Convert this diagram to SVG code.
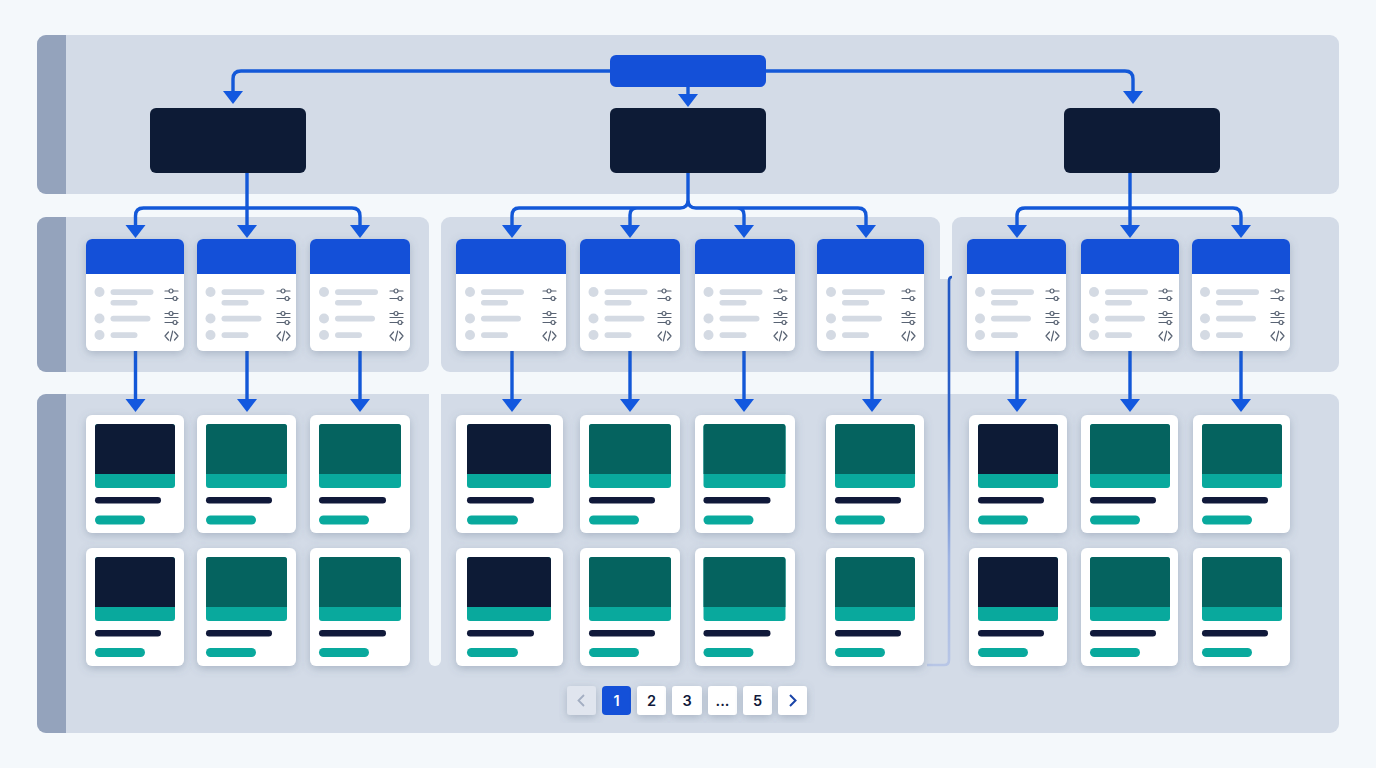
<svg xmlns="http://www.w3.org/2000/svg" width="1376" height="768" viewBox="0 0 1376 768">
<style>
.panel{fill:#d3dbe7}
.stripe{fill:#94a3bc}
.white{fill:#fff;filter:url(#sh)}
.blue{fill:#1450d8}
.dark{fill:#0d1b36}
.sub{fill:#d4dae3}
.tdark{fill:#05635f}
.teal{fill:#09a99d}
.ink{fill:#10193a}
.ln{fill:none;stroke:#1358d8;stroke-width:3.4;stroke-linejoin:round}
.ah{fill:#1358df}
.ic{fill:none;stroke:#596373;stroke-width:1.2;stroke-linecap:round;stroke-linejoin:round}
.pg{font-family:"Inter","Liberation Sans",sans-serif;font-size:14.500px;font-weight:600;fill:#10193a;text-anchor:middle}
</style>
<defs>
<filter id="sh" x="-25%" y="-25%" width="150%" height="150%"><feDropShadow dx="0" dy="2.500" stdDeviation="4" flood-color="#55657f" flood-opacity=".32"/></filter>
<linearGradient id="fade" gradientUnits="userSpaceOnUse" x1="0" y1="277" x2="0" y2="665">
<stop offset="0" stop-color="#1f56c4"/><stop offset=".4" stop-color="#2f62c8"/><stop offset=".72" stop-color="#9fb4e2"/><stop offset="1" stop-color="#b8c6e6"/>
</linearGradient>
<g id="lines">
<circle cx="0" cy="0" r="5" class="sub"/><rect x="11" y="-2.800" width="43" height="5.800" rx="2.900" class="sub"/><rect x="11" y="8" width="27" height="5.400" rx="2.700" class="sub"/>
<circle cx="0" cy="26.500" r="5" class="sub"/><rect x="11" y="23.700" width="40" height="5.800" rx="2.900" class="sub"/>
<circle cx="0" cy="43" r="5" class="sub"/><rect x="11" y="40.200" width="27" height="5.800" rx="2.900" class="sub"/>
</g>
<g id="icons">
<path class="ic" d="M0 5H4M8 5H13M0 12.500H8M12 12.500H13"/><circle class="ic" cx="6" cy="5" r="2"/><circle class="ic" cx="10" cy="12.500" r="2"/>
<path class="ic" d="M0 27.500H4M8 27.500H13M0 31.500H13M0 36.500H8M12 36.500H13"/><circle class="ic" cx="6" cy="27.500" r="2"/><circle class="ic" cx="10" cy="36.500" r="2"/>
<path class="ic" d="M3.500 46L0 50L3.500 54M9.500 46L13 50L9.500 54M7.700 45L5.300 55"/>
</g>
<path id="a" class="ah" d="M-10 0H10L0 13Z"/>
<g id="pic-d"><rect class="teal" x="0" y="0" width="80" height="64" rx="3"/><path class="dark" d="M0 50V3a3 3 0 0 1 3-3H77a3 3 0 0 1 3 3V50Z"/></g>
</defs>
<rect width="1376" height="768" fill="#f4f8fb"/>
<g id="panels">
<rect class="panel" x="37" y="35" width="1302" height="159" rx="9"/><path class="stripe" d="M66 35H46a9 9 0 0 0-9 9V185a9 9 0 0 0 9 9H66Z"/>
<rect class="panel" x="37" y="217" width="392" height="155" rx="9"/><path class="stripe" d="M66 217H46a9 9 0 0 0-9 9V363a9 9 0 0 0 9 9H66Z"/>
<path class="panel" d="M450 217H931a9 9 0 0 1 9 9V279H952V226a9 9 0 0 1 9-9H1330a9 9 0 0 1 9 9V363a9 9 0 0 1-9 9H450a9 9 0 0 1-9-9V226a9 9 0 0 1 9-9Z"/>
<rect class="panel" x="37" y="394" width="1302" height="339" rx="9"/><path class="stripe" d="M66 394H46a9 9 0 0 0-9 9V724a9 9 0 0 0 9 9H66Z"/>
<path fill="#f4f8fb" d="M429 394H441V660a6 6 0 0 1-6 6a6 6 0 0 1-6-6Z"/>
</g>
<g id="connectors">
<path d="M952 277Q949 277 949 281V660Q949 665 944 665H927" fill="none" stroke="url(#fade)" stroke-width="2.600"/>
<path class="ln" d="M610 71H241Q233 71 233 79V93M766 71H1125Q1133 71 1133 79V93M688 87V96"/>
<path class="ln" d="M247 173V226M135.500 226V216Q135.500 208 143.500 208H352Q360 208 360 216V226"/>
<path class="ln" d="M688 173V200Q688 208 680 208H519Q512 208 512 216V226M688 200Q688 208 696 208H858Q866 208 866 216V226M630 226V215Q630 208 637 208M744 226V215Q744 208 737 208"/>
<path class="ln" d="M1130 173V226M1017 226V216Q1017 208 1025 208H1233Q1241 208 1241 216V226"/>
<path class="ln" d="M135.500 351V400M247 351V400M360 351V400M512 351V400M630 351V400M744 351V400M872 351V400M1017 351V400M1130 351V400M1241 351V400"/>
<use href="#a" x="233" y="91"/><use href="#a" x="1133" y="91"/><use href="#a" x="688" y="94"/>
<use href="#a" x="135.500" y="225"/><use href="#a" x="247" y="225"/><use href="#a" x="360" y="225"/>
<use href="#a" x="512" y="225"/><use href="#a" x="630" y="225"/><use href="#a" x="744" y="225"/><use href="#a" x="866" y="225"/>
<use href="#a" x="1017" y="225"/><use href="#a" x="1130" y="225"/><use href="#a" x="1241" y="225"/>
<use href="#a" x="135.500" y="399"/><use href="#a" x="247" y="399"/><use href="#a" x="360" y="399"/>
<use href="#a" x="512" y="399"/><use href="#a" x="630" y="399"/><use href="#a" x="744" y="399"/><use href="#a" x="872" y="399"/>
<use href="#a" x="1017" y="399"/><use href="#a" x="1130" y="399"/><use href="#a" x="1241" y="399"/>
</g>
<g id="root"><rect class="blue" x="610" y="55" width="156" height="32" rx="6"/></g>
<g id="section-1"><rect class="dark" x="150" y="108" width="156" height="65" rx="6"/></g>
<g id="section-2"><rect class="dark" x="610" y="108" width="156" height="65" rx="6"/></g>
<g id="section-3"><rect class="dark" x="1064" y="108" width="156" height="65" rx="6"/></g>
<g id="list-1"><rect class="white" x="86" y="239" width="98" height="112" rx="6"/><path class="blue" d="M86 274V245a6 6 0 0 1 6-6H178a6 6 0 0 1 6 6V274Z"/><use href="#lines" x="99.500" y="292"/><use href="#icons" x="165" y="286"/></g>
<g id="list-2"><rect class="white" x="197" y="239" width="99" height="112" rx="6"/><path class="blue" d="M197 274V245a6 6 0 0 1 6-6H290a6 6 0 0 1 6 6V274Z"/><use href="#lines" x="210.500" y="292"/><use href="#icons" x="277" y="286"/></g>
<g id="list-3"><rect class="white" x="310" y="239" width="100" height="112" rx="6"/><path class="blue" d="M310 274V245a6 6 0 0 1 6-6H404a6 6 0 0 1 6 6V274Z"/><use href="#lines" x="324" y="292"/><use href="#icons" x="390" y="286"/></g>
<g id="list-4"><rect class="white" x="456" y="239" width="110" height="112" rx="6"/><path class="blue" d="M456 274V245a6 6 0 0 1 6-6H560a6 6 0 0 1 6 6V274Z"/><use href="#lines" x="470" y="292"/><use href="#icons" x="543" y="286"/></g>
<g id="list-5"><rect class="white" x="580" y="239" width="100" height="112" rx="6"/><path class="blue" d="M580 274V245a6 6 0 0 1 6-6H674a6 6 0 0 1 6 6V274Z"/><use href="#lines" x="593.500" y="292"/><use href="#icons" x="658" y="286"/></g>
<g id="list-6"><rect class="white" x="695" y="239" width="100" height="112" rx="6"/><path class="blue" d="M695 274V245a6 6 0 0 1 6-6H789a6 6 0 0 1 6 6V274Z"/><use href="#lines" x="708.500" y="292"/><use href="#icons" x="774" y="286"/></g>
<g id="list-7"><rect class="white" x="817" y="239" width="107" height="112" rx="6"/><path class="blue" d="M817 274V245a6 6 0 0 1 6-6H918a6 6 0 0 1 6 6V274Z"/><use href="#lines" x="831" y="292"/><use href="#icons" x="902" y="286"/></g>
<g id="list-8"><rect class="white" x="967" y="239" width="99" height="112" rx="6"/><path class="blue" d="M967 274V245a6 6 0 0 1 6-6H1060a6 6 0 0 1 6 6V274Z"/><use href="#lines" x="980" y="292"/><use href="#icons" x="1046" y="286"/></g>
<g id="list-9"><rect class="white" x="1081" y="239" width="98" height="112" rx="6"/><path class="blue" d="M1081 274V245a6 6 0 0 1 6-6H1173a6 6 0 0 1 6 6V274Z"/><use href="#lines" x="1094" y="292"/><use href="#icons" x="1159" y="286"/></g>
<g id="list-10"><rect class="white" x="1192" y="239" width="98" height="112" rx="6"/><path class="blue" d="M1192 274V245a6 6 0 0 1 6-6H1284a6 6 0 0 1 6 6V274Z"/><use href="#lines" x="1205" y="292"/><use href="#icons" x="1271" y="286"/></g>

<g id="c11"><rect class="white" x="86" y="415" width="98" height="118" rx="6"/><rect class="teal" x="95" y="424" width="80" height="64" rx="3"/><path class="dark" d="M95 474V427a3 3 0 0 1 3-3H172a3 3 0 0 1 3 3V474Z"/><rect class="ink" x="95" y="497" width="66" height="6.500" rx="3.200"/><rect class="teal" x="95" y="515.500" width="50" height="9" rx="4.500"/></g>
<g id="c12"><rect class="white" x="197" y="415" width="99" height="118" rx="6"/><rect class="teal" x="206" y="424" width="81" height="64" rx="3"/><path class="tdark" d="M206 474V427a3 3 0 0 1 3-3H284a3 3 0 0 1 3 3V474Z"/><rect class="ink" x="206" y="497" width="66" height="6.500" rx="3.200"/><rect class="teal" x="206" y="515.500" width="50" height="9" rx="4.500"/></g>
<g id="c13"><rect class="white" x="310" y="415" width="100" height="118" rx="6"/><rect class="teal" x="319" y="424" width="82" height="64" rx="3"/><path class="tdark" d="M319 474V427a3 3 0 0 1 3-3H398a3 3 0 0 1 3 3V474Z"/><rect class="ink" x="319" y="497" width="67" height="6.500" rx="3.200"/><rect class="teal" x="319" y="515.500" width="50" height="9" rx="4.500"/></g>
<g id="c14"><rect class="white" x="456" y="415" width="107" height="118" rx="6"/><rect class="teal" x="467" y="424" width="84" height="64" rx="3"/><path class="dark" d="M467 474V427a3 3 0 0 1 3-3H548a3 3 0 0 1 3 3V474Z"/><rect class="ink" x="467" y="497" width="67" height="6.500" rx="3.200"/><rect class="teal" x="467" y="515.500" width="51" height="9" rx="4.500"/></g>
<g id="c15"><rect class="white" x="580" y="415" width="100" height="118" rx="6"/><rect class="teal" x="589" y="424" width="82" height="64" rx="3"/><path class="tdark" d="M589 474V427a3 3 0 0 1 3-3H668a3 3 0 0 1 3 3V474Z"/><rect class="ink" x="589" y="497" width="66" height="6.500" rx="3.200"/><rect class="teal" x="589" y="515.500" width="50" height="9" rx="4.500"/></g>
<g id="c16"><rect class="white" x="695" y="415" width="100" height="118" rx="6"/><rect class="teal" x="703.500" y="424" width="82" height="64" rx="3"/><path class="tdark" d="M703.500 474V427a3 3 0 0 1 3-3H782.500a3 3 0 0 1 3 3V474Z"/><rect class="ink" x="703.500" y="497" width="67" height="6.500" rx="3.200"/><rect class="teal" x="703.500" y="515.500" width="50" height="9" rx="4.500"/></g>
<g id="c17"><rect class="white" x="826" y="415" width="98" height="118" rx="6"/><rect class="teal" x="835" y="424" width="80" height="64" rx="3"/><path class="tdark" d="M835 474V427a3 3 0 0 1 3-3H912a3 3 0 0 1 3 3V474Z"/><rect class="ink" x="835" y="497" width="66" height="6.500" rx="3.200"/><rect class="teal" x="835" y="515.500" width="50" height="9" rx="4.500"/></g>
<g id="c18"><rect class="white" x="969" y="415" width="98" height="118" rx="6"/><rect class="teal" x="978" y="424" width="80" height="64" rx="3"/><path class="dark" d="M978 474V427a3 3 0 0 1 3-3H1055a3 3 0 0 1 3 3V474Z"/><rect class="ink" x="978" y="497" width="66" height="6.500" rx="3.200"/><rect class="teal" x="978" y="515.500" width="50" height="9" rx="4.500"/></g>
<g id="c19"><rect class="white" x="1081" y="415" width="97" height="118" rx="6"/><rect class="teal" x="1090" y="424" width="80" height="64" rx="3"/><path class="tdark" d="M1090 474V427a3 3 0 0 1 3-3H1167a3 3 0 0 1 3 3V474Z"/><rect class="ink" x="1090" y="497" width="66" height="6.500" rx="3.200"/><rect class="teal" x="1090" y="515.500" width="50" height="9" rx="4.500"/></g>
<g id="c110"><rect class="white" x="1193" y="415" width="97" height="118" rx="6"/><rect class="teal" x="1202" y="424" width="80" height="64" rx="3"/><path class="tdark" d="M1202 474V427a3 3 0 0 1 3-3H1279a3 3 0 0 1 3 3V474Z"/><rect class="ink" x="1202" y="497" width="66" height="6.500" rx="3.200"/><rect class="teal" x="1202" y="515.500" width="50" height="9" rx="4.500"/></g>

<g id="c21"><rect class="white" x="86" y="548" width="98" height="118" rx="6"/><rect class="teal" x="95" y="557" width="80" height="64" rx="3"/><path class="dark" d="M95 607V560a3 3 0 0 1 3-3H172a3 3 0 0 1 3 3V607Z"/><rect class="ink" x="95" y="630" width="66" height="6.500" rx="3.200"/><rect class="teal" x="95" y="648" width="50" height="9" rx="4.500"/></g>
<g id="c22"><rect class="white" x="197" y="548" width="99" height="118" rx="6"/><rect class="teal" x="206" y="557" width="81" height="64" rx="3"/><path class="tdark" d="M206 607V560a3 3 0 0 1 3-3H284a3 3 0 0 1 3 3V607Z"/><rect class="ink" x="206" y="630" width="66" height="6.500" rx="3.200"/><rect class="teal" x="206" y="648" width="50" height="9" rx="4.500"/></g>
<g id="c23"><rect class="white" x="310" y="548" width="100" height="118" rx="6"/><rect class="teal" x="319" y="557" width="82" height="64" rx="3"/><path class="tdark" d="M319 607V560a3 3 0 0 1 3-3H398a3 3 0 0 1 3 3V607Z"/><rect class="ink" x="319" y="630" width="67" height="6.500" rx="3.200"/><rect class="teal" x="319" y="648" width="50" height="9" rx="4.500"/></g>
<g id="c24"><rect class="white" x="456" y="548" width="107" height="118" rx="6"/><rect class="teal" x="467" y="557" width="84" height="64" rx="3"/><path class="dark" d="M467 607V560a3 3 0 0 1 3-3H548a3 3 0 0 1 3 3V607Z"/><rect class="ink" x="467" y="630" width="67" height="6.500" rx="3.200"/><rect class="teal" x="467" y="648" width="51" height="9" rx="4.500"/></g>
<g id="c25"><rect class="white" x="580" y="548" width="100" height="118" rx="6"/><rect class="teal" x="589" y="557" width="82" height="64" rx="3"/><path class="tdark" d="M589 607V560a3 3 0 0 1 3-3H668a3 3 0 0 1 3 3V607Z"/><rect class="ink" x="589" y="630" width="66" height="6.500" rx="3.200"/><rect class="teal" x="589" y="648" width="50" height="9" rx="4.500"/></g>
<g id="c26"><rect class="white" x="695" y="548" width="100" height="118" rx="6"/><rect class="teal" x="703.500" y="557" width="82" height="64" rx="3"/><path class="tdark" d="M703.500 607V560a3 3 0 0 1 3-3H782.500a3 3 0 0 1 3 3V607Z"/><rect class="ink" x="703.500" y="630" width="67" height="6.500" rx="3.200"/><rect class="teal" x="703.500" y="648" width="50" height="9" rx="4.500"/></g>
<g id="c27"><rect class="white" x="826" y="548" width="98" height="118" rx="6"/><rect class="teal" x="835" y="557" width="80" height="64" rx="3"/><path class="tdark" d="M835 607V560a3 3 0 0 1 3-3H912a3 3 0 0 1 3 3V607Z"/><rect class="ink" x="835" y="630" width="66" height="6.500" rx="3.200"/><rect class="teal" x="835" y="648" width="50" height="9" rx="4.500"/></g>
<g id="c28"><rect class="white" x="969" y="548" width="98" height="118" rx="6"/><rect class="teal" x="978" y="557" width="80" height="64" rx="3"/><path class="dark" d="M978 607V560a3 3 0 0 1 3-3H1055a3 3 0 0 1 3 3V607Z"/><rect class="ink" x="978" y="630" width="66" height="6.500" rx="3.200"/><rect class="teal" x="978" y="648" width="50" height="9" rx="4.500"/></g>
<g id="c29"><rect class="white" x="1081" y="548" width="97" height="118" rx="6"/><rect class="teal" x="1090" y="557" width="80" height="64" rx="3"/><path class="tdark" d="M1090 607V560a3 3 0 0 1 3-3H1167a3 3 0 0 1 3 3V607Z"/><rect class="ink" x="1090" y="630" width="66" height="6.500" rx="3.200"/><rect class="teal" x="1090" y="648" width="50" height="9" rx="4.500"/></g>
<g id="c210"><rect class="white" x="1193" y="548" width="97" height="118" rx="6"/><rect class="teal" x="1202" y="557" width="80" height="64" rx="3"/><path class="tdark" d="M1202 607V560a3 3 0 0 1 3-3H1279a3 3 0 0 1 3 3V607Z"/><rect class="ink" x="1202" y="630" width="66" height="6.500" rx="3.200"/><rect class="teal" x="1202" y="648" width="50" height="9" rx="4.500"/></g>

<g id="pagination">
<rect x="567" y="686" width="29" height="29" rx="3" fill="#e0e5ee" filter="url(#sh)"/><path d="M584 695L578.500 700.500L584 706" fill="none" stroke="#a3aec2" stroke-width="1.800"/>
<rect x="602" y="686" width="29" height="29" rx="4" fill="#1450d8"/><text class="pg" x="616.500" y="705.500" style="fill:#fff">1</text>
<rect x="637" y="686" width="29" height="29" rx="3" class="white"/><text class="pg" x="651.500" y="705.500">2</text>
<rect x="672" y="686" width="30" height="29" rx="3" class="white"/><text class="pg" x="687" y="705.500">3</text>
<rect x="708" y="686" width="29" height="29" rx="3" class="white"/><text class="pg" x="722.500" y="705.500">...</text>
<rect x="743" y="686" width="29" height="29" rx="3" class="white"/><text class="pg" x="757.500" y="705.500">5</text>
<rect x="778" y="686" width="29" height="29" rx="3" class="white"/><path d="M790 695L795.500 700.500L790 706" fill="none" stroke="#1a44a8" stroke-width="2"/>
</g>
</svg>
